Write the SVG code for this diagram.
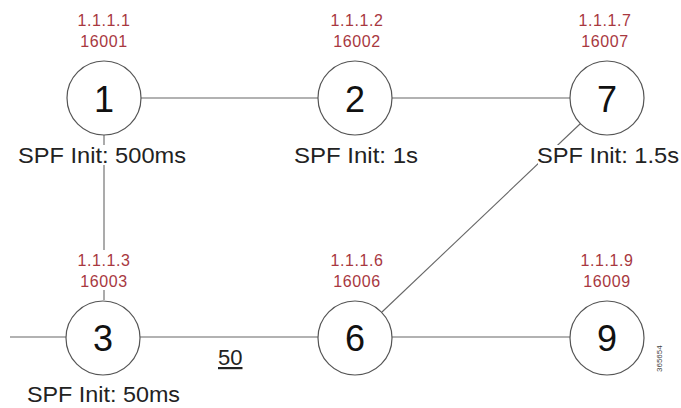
<svg xmlns="http://www.w3.org/2000/svg" width="681" height="408" viewBox="0 0 681 408">
<style>
.node{fill:#fff;stroke:#555;stroke-width:1.2}
.num{font-family:"Liberation Sans",Arial,sans-serif;font-size:36px;fill:#111;text-anchor:middle}
.addr{font-family:"Liberation Sans",Arial,sans-serif;font-size:16px;fill:#a8383f;text-anchor:middle;letter-spacing:0.6px}
.spf{font-family:"Liberation Sans",Arial,sans-serif;font-size:22px;fill:#222}
.bg{fill:#fff}
.link{stroke:#666;stroke-width:1.1;fill:none}
</style>
<rect width="681" height="408" fill="#fff"/>
<g id="connectors">
<line class="link" x1="140" y1="98" x2="318" y2="98"/>
<line class="link" x1="392" y1="98" x2="570" y2="98"/>
<line class="link" x1="104" y1="135" x2="104" y2="300"/>
<line class="link" x1="10" y1="337" x2="66" y2="337"/>
<line class="link" x1="140" y1="337" x2="318" y2="337"/>
<line class="link" x1="392" y1="337" x2="570" y2="337"/>
<line class="link" x1="382" y1="312" x2="581" y2="123"/>
<text x="218" y="365" style="font-family:'Liberation Sans',Arial,sans-serif;font-size:22px;fill:#222;text-decoration:underline">50</text>
</g>
<g id="node1">
<circle class="node" cx="104" cy="98" r="37"/>
<text class="num" x="104" y="112">1</text>
<text class="addr" x="104" y="26">1.1.1.1</text>
<text class="addr" x="104" y="47">16001</text>
<rect class="bg" x="20" y="145" width="166" height="20"/>
<text class="spf" x="18" y="163" textLength="168" lengthAdjust="spacingAndGlyphs">SPF Init: 500ms</text>
</g>
<g id="node2">
<circle class="node" cx="355" cy="98" r="37"/>
<text class="num" x="355" y="112">2</text>
<text class="addr" x="357" y="26">1.1.1.2</text>
<text class="addr" x="357" y="47">16002</text>
<text class="spf" x="294" y="163" textLength="124" lengthAdjust="spacingAndGlyphs">SPF Init: 1s</text>
</g>
<g id="node7">
<circle class="node" cx="607" cy="98" r="37"/>
<text class="num" x="607" y="112">7</text>
<text class="addr" x="605" y="26">1.1.1.7</text>
<text class="addr" x="605" y="47">16007</text>
<rect class="bg" x="538" y="145" width="142" height="20"/>
<text class="spf" x="537" y="163" textLength="142" lengthAdjust="spacingAndGlyphs">SPF Init: 1.5s</text>
</g>
<g id="node3">
<circle class="node" cx="103" cy="338" r="37"/>
<text class="num" x="103" y="351">3</text>
<rect class="bg" x="76" y="250" width="56" height="40"/>
<text class="addr" x="104" y="266">1.1.1.3</text>
<text class="addr" x="104" y="287">16003</text>
<text class="spf" x="27" y="402" textLength="153" lengthAdjust="spacingAndGlyphs">SPF Init: 50ms</text>
</g>
<g id="node6">
<circle class="node" cx="355" cy="338" r="37"/>
<text class="num" x="355" y="351">6</text>
<text class="addr" x="357" y="266">1.1.1.6</text>
<text class="addr" x="357" y="287">16006</text>
</g>
<g id="node9">
<circle class="node" cx="607" cy="338" r="37"/>
<text class="num" x="607" y="351">9</text>
<text class="addr" x="607" y="266">1.1.1.9</text>
<text class="addr" x="607" y="287">16009</text>
</g>
<text transform="translate(662,372) rotate(-90)" style="font-family:'Liberation Sans',Arial,sans-serif;font-size:8px;fill:#444">365654</text>
</svg>
